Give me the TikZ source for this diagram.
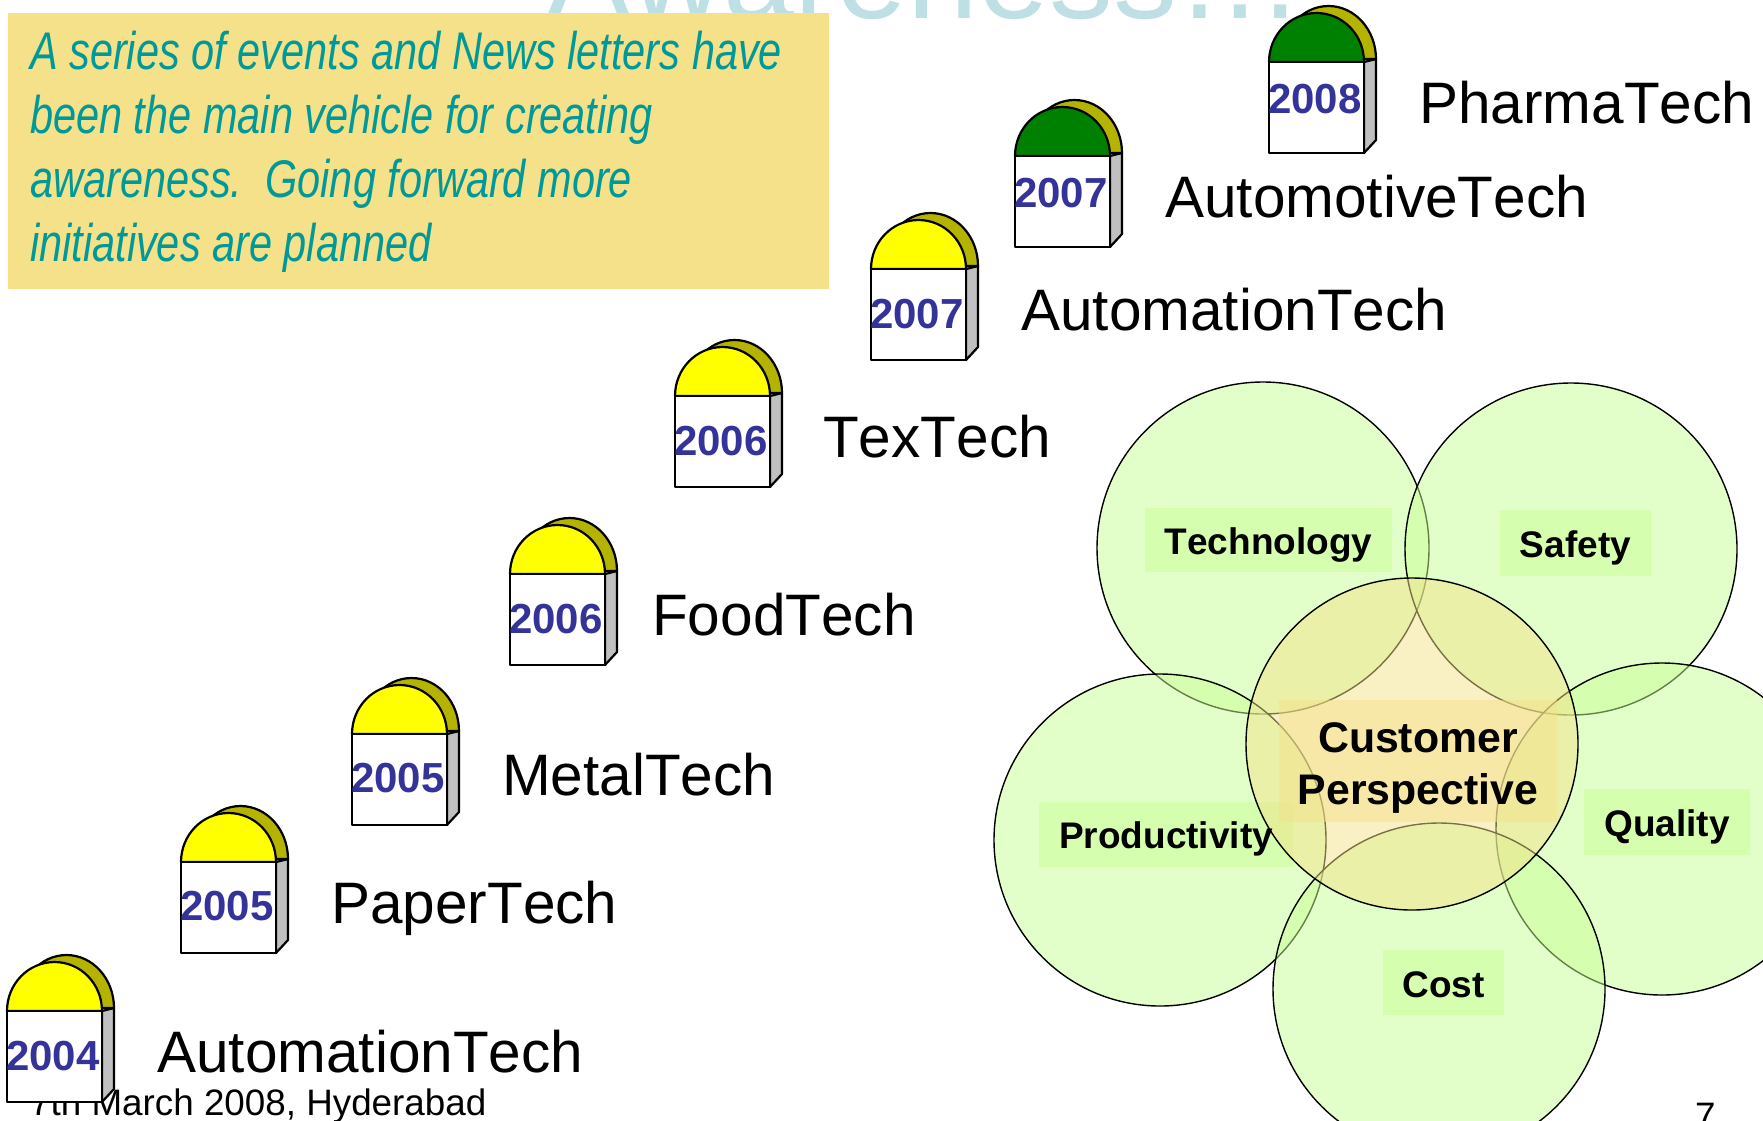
\documentclass[tikz,border=0pt]{standalone}
\usepackage{fontspec}
\setmainfont{Liberation Sans}[Kerning=Off]
\definecolor{titleblue}{HTML}{BEE0E5}
\definecolor{notesand}{HTML}{F4E18A}
\definecolor{noteteal}{HTML}{009999}
\definecolor{yearblue}{HTML}{333399}
\definecolor{backolive}{HTML}{B3B300}
\definecolor{sidegray}{HTML}{C0C0C0}
\definecolor{petalgreen}{HTML}{C7FF93}
\definecolor{domeyellow}{HTML}{FFFF00}
\definecolor{domegreen}{HTML}{008000}
\tikzset{
  techlabel/.style={anchor=base west,inner sep=0pt,font=\fontsize{58.5}{60}\selectfont},
  yearlabel/.style={anchor=base west,inner sep=0pt,text=yearblue,font=\fontsize{42}{44}\selectfont\bfseries},
  petal/.style={circle,draw=black,line width=1.4pt,fill=petalgreen,fill opacity=0.5,minimum size=332pt,inner sep=0pt},
  petalbox/.style={fill=petalgreen,fill opacity=0.5,inner sep=0pt},
  petaltext/.style={anchor=base,inner sep=0pt,yshift=-14pt,font=\fontsize{37}{40}\selectfont\bfseries},
  stone/.style={draw=black,line width=2.2pt,line join=round},
  footer/.style={anchor=base west,inner sep=0pt,font=\fontsize{36.8}{40}\selectfont}
}
% #1,#2 top left of the white face, #3 dome colour, #4 node prefix, #5 year, #6 year baseline, #7 name, #8 name offset
\newcommand{\Milestone}[8]{
  \begin{scope}[shift={(#1,#2)}]
    \draw[stone,fill=backolive] (12,-3) arc[start angle=180,end angle=0,x radius=47.5pt,y radius=53pt] -- cycle;
    \draw[stone,fill=sidegray] (95,0) -- (107,-3) -- (107,78) -- (95,91) -- cycle;
    \draw[stone,fill=#3] (0,0) arc[start angle=180,end angle=0,x radius=47.5pt,y radius=49pt] -- cycle;
    \draw[stone,fill=white] (0,0) rectangle (95,91);
    \node[yearlabel] (#4year) at (-1,#6) {#5};
    \node[techlabel] (#4name) at (#8,61) {#7};
  \end{scope}
}

\begin{document}
\begin{tikzpicture}[x=1pt,y=-1pt]
   \useasboundingbox (0,0) rectangle (1763,1120);
   \clip (0,0) rectangle (1763,1120);
   % title, mostly off the page
   \node[anchor=base west,inner sep=0pt,text=titleblue,font=\fontsize{127.5}{130}\selectfont] (title) at (546,18) {Awareness…};
   % note
   \node[fill=notesand,minimum width=821pt,minimum height=276pt,inner sep=0pt] (note) at (418.5,151) {};
   \node[anchor=north west,inner sep=0pt,xscale=0.783,align=left,text=noteteal,font=\fontsize{53}{64}\selectfont\itshape] (notetext) at (30,31)
      {A series of events and News letters have\\been the main vehicle for creating\\awareness.~~Going forward more\\initiatives are planned};
   % footer
   \node[footer] (date) at (30,1115) {7th March 2008, Hyderabad};
   \node[footer] (page) at (1695,1128) {7};
   % milestones
   \Milestone{7}{1011}{domeyellow}{autoA}{2004}{59}{AutomationTech}{150}
   \Milestone{181}{862}{domeyellow}{paper}{2005}{58}{PaperTech}{150}
   \Milestone{352}{734}{domeyellow}{metal}{2005}{58}{MetalTech}{150}
   \Milestone{510}{574}{domeyellow}{food}{2006}{59}{FoodTech}{142}
   \Milestone{675}{396}{domeyellow}{tex}{2006}{59}{TexTech}{148}
   \Milestone{871}{269}{domeyellow}{autoB}{2007}{59}{AutomationTech}{150}
   \Milestone{1015}{156}{domegreen}{motive}{2007}{51}{AutomotiveTech}{150}
   \Milestone{1269}{62}{domegreen}{pharma}{2008}{51}{PharmaTech}{150}
   % circles
   \node[petal] (tech) at (1263,548) {};
   \node[petal] (safety) at (1571,549) {};
   \node[petal] (prod) at (1160,840) {};
   \node[petal] (quality) at (1662,829) {};
   \node[petal] (cost) at (1439,989) {};
   \node[petalbox,minimum width=247pt,minimum height=64pt] (techbox) at (1268.5,540) {};
   \node[petalbox,minimum width=151pt,minimum height=66pt] (safetybox) at (1575.5,543) {};
   \node[petalbox,minimum width=254pt,minimum height=65pt] (prodbox) at (1166,834.5) {};
   \node[petalbox,minimum width=166pt,minimum height=66pt] (qualitybox) at (1667,822) {};
   \node[petalbox,minimum width=121pt,minimum height=65pt] (costbox) at (1443.5,982.5) {};
   \node[petal,fill=notesand] (cust) at (1412,744) {};
   \node[fill=notesand,fill opacity=0.5,inner sep=0pt,minimum width=278pt,minimum height=122pt] (custbox) at (1418,761) {};
   \node[petaltext] at (techbox) {Technology};
   \node[petaltext] at (safetybox) {Safety};
   \node[petaltext] at (prodbox) {Productivity};
   \node[petaltext] at (qualitybox) {Quality};
   \node[petaltext,yshift=-1pt] at (costbox) {Cost};
   \node[inner sep=0pt,align=center,yshift=-7pt,font=\fontsize{42.8}{52}\selectfont\bfseries] (custtext) at (custbox) {Customer\\Perspective};
\end{tikzpicture}
\end{document}
